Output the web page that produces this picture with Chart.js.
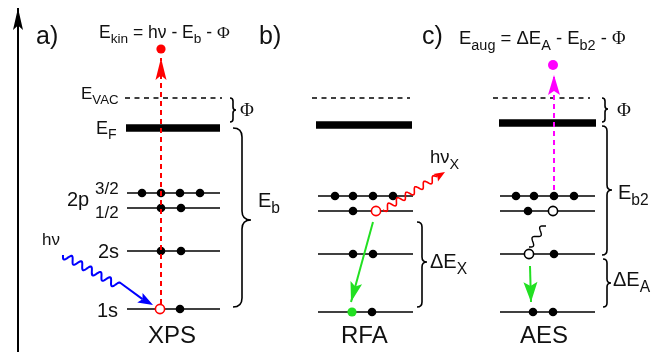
<!DOCTYPE html>
<html>
<head>
<meta charset="utf-8">
<script src="https://cdn.jsdelivr.net/npm/chart.js@4"></script>
<style>
    html, body { margin: 0; padding: 0; background: #fff; overflow: hidden; }
    #wrap { width: 655px; height: 352px; }
</style>
</head>
<body>
<div id="wrap"><canvas id="c" width="655" height="352"></canvas></div>
<script>
// Diagram units: x across the page, y = energy position (0 at top)
// Levels: vacuum, Fermi, 2p3/2, 2p1/2, 2s, 1s
const levelsXPS = [98, 128, 193, 208, 251, 309];
const levelsRFA = [98, 125, 196, 211, 254, 312];
const levelsAES = [98, 123, 196, 211, 254, 312];

// level extents [vacuum, Fermi, core levels]
const spanXPS = [[125, 222], [126, 220], [127, 220]];
const spanRFA = [[312, 410], [316, 412], [318, 413]];
const spanAES = [[493, 590], [499, 596], [500, 595]];

// electrons and holes: [x, level index]
const electronsXPS = [[142, 2], [161, 2], [180, 2], [200, 2], [161, 3], [181, 3], [161, 4], [181, 4], [180, 5]];
const electronsRFA = [[335, 2], [353, 2], [373, 2], [393, 2], [353, 3], [353, 4], [373, 4], [372, 5]];
const electronsAES = [[516, 2], [534, 2], [554, 2], [574, 2], [528, 3], [554, 4], [533, 5], [553, 5]];
const holesXPS = [[160, 5]];
const holesRFA = [[376, 3]];
const holesAES = [[553, 3], [529, 4]];

// transitions [x0, y0, x1, y1]
const escapeXPS = [161, 304, 161, 58];
const escapeAES = [554, 190, 554, 75];
const fallRFA = [373, 222, 351, 302];
const fallAES = [530, 266, 531, 302];
const emittedXPS = [161, 49];
const emittedAES = [553, 65];
const filledRFA = [352, 312];

// photons / squiggles [x0, y0, x1, y1]
const photonIn = [63, 255, 153, 305];
const photonOut = [383, 210, 445, 172];
const augerKick = [529, 247, 545, 225];

// braces [x, yTop, yBottom, yTip, depth]
const braces = [
    [233, 98, 122, 110, 3],
    [242, 128, 307, 220, 9],
    [422, 222, 307, 262, 5],
    [605, 98, 122, 109, 3],
    [607, 126, 255, 190, 5],
    [607, 259, 307, 283, 4]
];

const RED = '#ff0000', BLUE = '#0000ff', GREEN = '#22e022', MAGENTA = '#ff00ff';

function seg(a, b, y) { return [{ x: a, y }, { x: b, y }]; }

function levelSets(levels, span) {
    const out = [];
    out.push({ data: seg(span[0][0], span[0][1], levels[0]), borderColor: '#000', borderWidth: 1.5, borderDash: [5, 4.5] });
    out.push({ data: seg(span[1][0], span[1][1], levels[1]), borderColor: '#000', borderWidth: 7.5 });
    for (let i = 2; i < levels.length; i++) {
        out.push({ data: seg(span[2][0], span[2][1], levels[i]), borderColor: '#000', borderWidth: 1.7 });
    }
    return out.map(d => Object.assign(d, { showLine: true, pointRadius: 0, order: 5 }));
}

function dots(list, levels) { return list.map(([x, i]) => ({ x, y: levels[i] })); }

function arrowSet(t, color, width, dash, head) {
    return {
        data: [{ x: t[0], y: t[1] }, { x: t[2], y: t[3] }],
        showLine: true, pointRadius: 0, borderColor: color, borderWidth: width,
        borderDash: dash, arrow: head, order: 2
    };
}

const datasets = [
    // energy axis
    { data: [{ x: 18, y: 352 }, { x: 18, y: 8 }], showLine: true, pointRadius: 0, borderColor: '#000', borderWidth: 2, arrow: [22, 5], order: 5 },
    ...levelSets(levelsXPS, spanXPS),
    ...levelSets(levelsRFA, spanRFA),
    ...levelSets(levelsAES, spanAES),
    { data: [...dots(electronsXPS, levelsXPS), ...dots(electronsRFA, levelsRFA), ...dots(electronsAES, levelsAES)],
      pointRadius: 4.3, backgroundColor: '#000', borderWidth: 0, order: 3 },
    arrowSet(escapeXPS, RED, 2, [5, 4], [22, 5.5]),
    arrowSet(escapeAES, MAGENTA, 2, [5, 4], [20, 6]),
    arrowSet(fallRFA, GREEN, 2, [], [20, 6]),
    arrowSet(fallAES, GREEN, 2, [], [20, 7]),
    { data: dots(holesXPS, levelsXPS), pointRadius: 4.6, backgroundColor: '#fff', borderColor: RED, borderWidth: 1.6, order: 1 },
    { data: dots(holesRFA, levelsRFA), pointRadius: 4.6, backgroundColor: '#fff', borderColor: RED, borderWidth: 1.6, order: 1 },
    { data: dots(holesAES, levelsAES), pointRadius: 4.6, backgroundColor: '#fff', borderColor: '#000', borderWidth: 1.6, order: 1 },
    { data: [{ x: emittedXPS[0], y: emittedXPS[1] }], pointRadius: 4.6, backgroundColor: RED, borderWidth: 0, order: 1 },
    { data: [{ x: emittedAES[0], y: emittedAES[1] }], pointRadius: 5, backgroundColor: MAGENTA, borderWidth: 0, order: 1 },
    { data: [{ x: filledRFA[0], y: filledRFA[1] }], pointRadius: 4.6, backgroundColor: GREEN, borderWidth: 0, order: 1 }
];

// text labels: parts are [text, kind] with kind '' normal, 's' subscript, 'f' serif
const SANS = '"Liberation Sans", Arial, sans-serif';
const SERIF = '"Liberation Serif", "Times New Roman", serif';
const labels = [
    { x: 36, y: 44, size: 25, parts: [['a)', '']] },
    { x: 259, y: 44, size: 25, parts: [['b)', '']] },
    { x: 422, y: 44, size: 25, parts: [['c)', '']] },
    { x: 99, y: 38, size: 17.5, parts: [['E', ''], ['kin', 's'], [' = hν - E', ''], ['b', 's'], [' - ', ''], ['Φ', 'f']] },
    { x: 459, y: 44, size: 18.5, parts: [['E', ''], ['aug', 's'], [' = ΔE', ''], ['A', 's'], [' - E', ''], ['b2', 's'], [' - ', ''], ['Φ', 'f']] },
    { x: 81, y: 99, size: 17, parts: [['E', ''], ['VAC', 's']] },
    { x: 96, y: 134, size: 18, parts: [['E', ''], ['F', 's']] },
    { x: 95, y: 194, size: 17, parts: [['3/2', '']] },
    { x: 95, y: 218, size: 17, parts: [['1/2', '']] },
    { x: 67, y: 206, size: 20, parts: [['2p', '']] },
    { x: 98, y: 258, size: 20, parts: [['2s', '']] },
    { x: 97, y: 317, size: 20, parts: [['1s', '']] },
    { x: 42, y: 245, size: 17, parts: [['hν', '']] },
    { x: 148, y: 343, size: 24, parts: [['XPS', '']] },
    { x: 341, y: 343, size: 24, parts: [['RFA', '']] },
    { x: 520, y: 343, size: 24, parts: [['AES', '']] },
    { x: 240, y: 116, size: 19, parts: [['Φ', 'f']] },
    { x: 258, y: 207, size: 20, parts: [['E', ''], ['b', 's']] },
    { x: 430, y: 163, size: 18.5, parts: [['hν', ''], ['X', 's']] },
    { x: 430, y: 268, size: 20, parts: [['ΔE', ''], ['X', 's']] },
    { x: 617, y: 116, size: 19, parts: [['Φ', 'f']] },
    { x: 618, y: 199, size: 20, parts: [['E', ''], ['b2', 's']] },
    { x: 613, y: 286, size: 20, parts: [['ΔE', ''], ['A', 's']] }
];

function drawHead(ctx, ax, ay, bx, by, len, half, color) {
    const dx = bx - ax, dy = by - ay, L = Math.hypot(dx, dy) || 1;
    const ux = dx / L, uy = dy / L, nx = -uy, ny = ux;
    ctx.fillStyle = color;
    ctx.beginPath();
    ctx.moveTo(bx, by);
    ctx.lineTo(bx - ux * len + nx * half, by - uy * len + ny * half);
    ctx.lineTo(bx - ux * len * 0.8, by - uy * len * 0.8);
    ctx.lineTo(bx - ux * len - nx * half, by - uy * len - ny * half);
    ctx.closePath();
    ctx.fill();
}

// wavy photon line between two endpoints (wave is a line style)
function drawWave(ctx, p, opt) {
    const [x0, y0, x1, y1] = p;
    const dx = x1 - x0, dy = y1 - y0, L = Math.hypot(dx, dy);
    const ux = dx / L, uy = dy / L, nx = -uy, ny = ux;
    const waveLen = L * opt.frac;
    ctx.strokeStyle = opt.color;
    ctx.lineWidth = opt.width;
    ctx.setLineDash([]);
    ctx.beginPath();
    for (let t = 0; t <= waveLen; t += 0.5) {
        const a = opt.amp * Math.sin(2 * Math.PI * t / opt.lambda);
        const X = x0 + ux * t + nx * a, Y = y0 + uy * t + ny * a;
        t === 0 ? ctx.moveTo(X, Y) : ctx.lineTo(X, Y);
    }
    if (opt.head) ctx.lineTo(x1 - ux * opt.head[0] * 0.8, y1 - uy * opt.head[0] * 0.8);
    ctx.stroke();
    if (opt.head) drawHead(ctx, x0, y0, x1, y1, opt.head[0], opt.head[1], opt.color);
}

function drawBrace(ctx, x, y0, y1, ym, d) {
    ctx.beginPath();
    ctx.moveTo(x - d, y0);
    ctx.quadraticCurveTo(x, y0, x, y0 + d);
    ctx.lineTo(x, ym - d);
    ctx.quadraticCurveTo(x, ym, x + d, ym);
    ctx.quadraticCurveTo(x, ym, x, ym + d);
    ctx.lineTo(x, y1 - d);
    ctx.quadraticCurveTo(x, y1, x - d, y1);
    ctx.stroke();
}

const diagramPlugin = {
    id: 'diagram',
    afterDatasetsDraw(chart) {
        const { ctx, scales: { x, y } } = chart;
        const px = v => x.getPixelForValue(v), py = v => y.getPixelForValue(v);
        const toPx = p => [px(p[0]), py(p[1]), px(p[2]), py(p[3])];
        ctx.save();

        // arrow heads on line datasets
        chart.data.datasets.forEach((ds, i) => {
            if (!ds.arrow) return;
            const pts = chart.getDatasetMeta(i).data;
            const a = pts[pts.length - 2], b = pts[pts.length - 1];
            drawHead(ctx, a.x, a.y, b.x, b.y, ds.arrow[0], ds.arrow[1], ds.borderColor);
        });

        drawWave(ctx, toPx(photonIn), { color: BLUE, width: 2, amp: 3.5, lambda: 11, frac: 0.62, head: [15, 5.5] });
        drawWave(ctx, toPx(photonOut), { color: RED, width: 1.6, amp: 3, lambda: 10.5, frac: 0.85, head: [11, 4.5] });
        drawWave(ctx, toPx(augerKick), { color: '#000', width: 1.4, amp: 3, lambda: 13, frac: 1 });

        ctx.strokeStyle = '#000';
        ctx.lineWidth = 1.6;
        ctx.setLineDash([]);
        braces.forEach(b => drawBrace(ctx, px(b[0]), py(b[1]), py(b[2]), py(b[3]), b[4]));

        ctx.fillStyle = '#111';
        ctx.textBaseline = 'alphabetic';
        labels.forEach(l => {
            let cx = px(l.x);
            const base = py(l.y);
            l.parts.forEach(([t, kind]) => {
                const sub = kind === 's';
                const size = sub ? l.size * 0.78 : l.size;
                ctx.font = size + 'px ' + (kind === 'f' ? SERIF : SANS);
                ctx.fillText(t, cx, base + (sub ? l.size * 0.3 : 0));
                cx += ctx.measureText(t).width;
            });
        });
        ctx.restore();
    }
};

new Chart(document.getElementById('c'), {
    type: 'scatter',
    data: { datasets },
    options: {
        responsive: false,
        animation: false,
        layout: { padding: 0, autoPadding: false },
        plugins: { legend: { display: false }, tooltip: { enabled: false } },
        elements: { line: { tension: 0 } },
        scales: {
            x: { type: 'linear', min: 0, max: 655, display: false },
            y: { type: 'linear', min: 0, max: 352, reverse: true, display: false }
        }
    },
    plugins: [diagramPlugin]
});
</script>
</body>
</html>
